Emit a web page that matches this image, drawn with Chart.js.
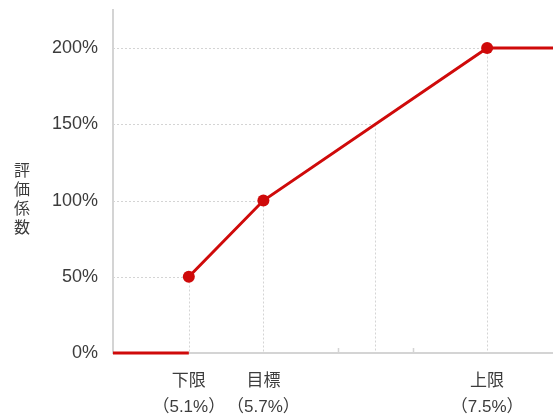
<!DOCTYPE html>
<html>
<head>
<meta charset="utf-8">
<script src="https://cdn.jsdelivr.net/npm/chart.js@4/dist/chart.umd.min.js"></script>
<style>
  html, body { margin: 0; padding: 0; background: #fff; }
  #wrap { width: 553px; height: 416px; }
</style>
</head>
<body>
<div id="wrap"><canvas id="myChart"></canvas></div>
<script>
// rate thresholds and the coefficient at each of them
let rateNames = ['下限', '目標', '上限'];
let rateValues = [5.1, 5.7, 7.5];
let coefValues = [50, 100, 200];

// axis range and ticks
let xMin = 4.49;
let xMax = 8.03;
let yMax = 225;
let yTicks = [0, 50, 100, 150, 200];
let minorTicks = [6.3, 6.9];

// dotted guides: from the y axis to the line and from the line down to the x axis
let guideX = [5.1, 5.7, 6.6, 7.5];
let guideY = [50, 100, 150, 200];

let red = '#cf0a0a';
let gray = '#d4d4d4';
let textColor = '#3c3c3c';
let font = '"Liberation Sans", "Noto Sans CJK JP", sans-serif';

// line above the lower limit, flat after the upper limit
let mainLine = rateValues.map((v, i) => ({ x: v, y: coefValues[i] }));
mainLine.push({ x: xMax, y: coefValues[coefValues.length - 1] });

// zero below the lower limit
let floorLine = [{ x: xMin, y: 0 }, { x: rateValues[0], y: 0 }];

let guides = {
    id: 'guides',
    beforeDatasetsDraw(chart) {
        let ctx = chart.ctx
        let x = chart.scales.x
        let y = chart.scales.y
        let area = chart.chartArea
        ctx.save()
        ctx.strokeStyle = gray
        ctx.lineWidth = 1
        ctx.setLineDash([2, 2])
        guideX.forEach((gx, i) => {
            let px = Math.round(x.getPixelForValue(gx)) + 0.5
            let py = Math.round(y.getPixelForValue(guideY[i])) + 0.5
            ctx.beginPath()
            ctx.moveTo(area.left, py)
            ctx.lineTo(px, py)
            ctx.moveTo(px, py)
            ctx.lineTo(px, area.bottom)
            ctx.stroke()
        })
        ctx.setLineDash([])
        ctx.lineWidth = 1.5
        ctx.beginPath()
        minorTicks.forEach(t => {
            let px = Math.round(x.getPixelForValue(t)) + 0.5
            ctx.moveTo(px, area.bottom)
            ctx.lineTo(px, area.bottom - 5)
        })
        ctx.stroke()
        ctx.restore()
    },
    afterDraw(chart) {
        // vertical y axis title, one character per row
        let ctx = chart.ctx
        ctx.save()
        ctx.fillStyle = textColor
        ctx.font = '16px "Noto Sans CJK JP", sans-serif'
        ctx.textAlign = 'center'
        ctx.textBaseline = 'middle'
        let chars = '評価係数'.split('')
        chars.forEach((c, i) => ctx.fillText(c, 22, 170 + i * 19))
        ctx.restore()
    }
};

let ctx = document.getElementById('myChart').getContext('2d')
let myChart = new Chart(ctx, {
    type: 'line',
    data: {
        datasets: [{
            data: mainLine,
            borderColor: red,
            backgroundColor: red,
            borderWidth: 3,
            pointRadius: mainLine.map((p, i) => i < rateValues.length ? 6 : 0),
            pointBackgroundColor: red,
            pointBorderWidth: 0,
            clip: false
        }, {
            data: floorLine,
            borderColor: red,
            borderWidth: 3,
            pointRadius: 0,
            clip: false
        }]
    },
    options: {
        responsive: true,
        maintainAspectRatio: false,
        animation: false,
        layout: { autoPadding: false, padding: { top: 10, left: 0, right: 0, bottom: 0 } },
        plugins: {
            legend: { display: false },
            tooltip: { enabled: false }
        },
        scales: {
            x: {
                type: 'linear',
                min: xMin,
                max: xMax,
                afterFit: scale => {
                    scale.height = 63
                    scale.paddingLeft = 0
                    scale.paddingRight = 0
                },
                afterBuildTicks: scale => {
                    scale.ticks = rateValues.map(v => ({ value: v }))
                },
                grid: { display: false, drawTicks: false },
                border: { display: true, color: gray, width: 2 },
                ticks: {
                    autoSkip: false,
                    maxRotation: 0,
                    padding: 16,
                    color: textColor,
                    font: { family: font, size: 17, lineHeight: 1.5 },
                    callback: value => {
                        let i = rateValues.indexOf(value)
                        return i < 0 ? '' : [rateNames[i], '（' + value.toFixed(1) + '%）']
                    }
                }
            },
            y: {
                min: 0,
                max: yMax,
                afterFit: scale => {
                    scale.width = 113
                    scale.paddingTop = 0
                    scale.paddingBottom = 0
                },
                afterBuildTicks: scale => {
                    scale.ticks = yTicks.map(v => ({ value: v }))
                },
                grid: { display: false, drawTicks: false },
                border: { display: true, color: gray, width: 2 },
                ticks: {
                    padding: 15,
                    color: textColor,
                    font: { family: font, size: 18 },
                    callback: value => value + '%'
                }
            }
        }
    },
    plugins: [guides]
});
</script>
</body>
</html>
